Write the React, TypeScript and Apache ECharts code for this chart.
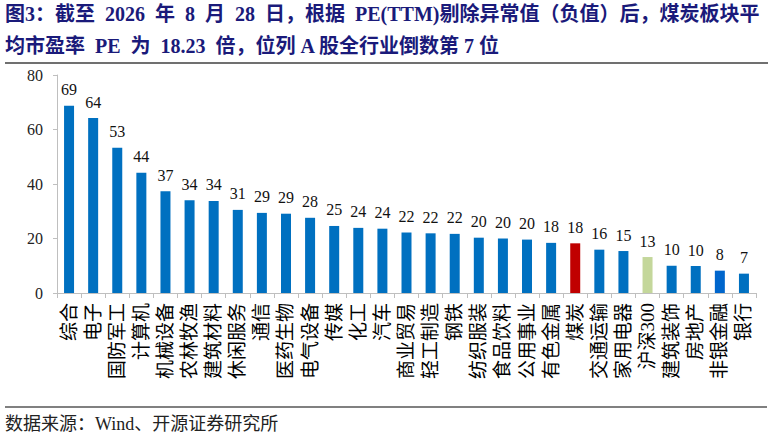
import { useEffect, useRef } from 'react'
import * as echarts from 'echarts'

const categories = [
  '综合', '电子', '国防军工', '计算机', '机械设备', '农林牧渔', '建筑材料', '休闲服务',
  '通信', '医药生物', '电气设备', '传媒', '化工', '汽车', '商业贸易', '轻工制造',
  '钢铁', '纺织服装', '食品饮料', '公用事业', '有色金属', '煤炭', '交通运输', '家用电器',
  '沪深300', '建筑装饰', '房地产', '非银金融', '银行',
]
const peValues = [
  68.7, 64.2, 53.3, 44.1, 37.3, 34.0, 33.8, 30.5, 29.4, 29.1, 27.6, 24.6, 23.9, 23.6, 22.2,
  21.9, 21.7, 20.3, 20.0, 19.6, 18.4, 18.23, 15.9, 15.4, 13.2, 10.0, 9.9, 8.2, 7.1,
]
const yTicks = [0, 20, 40, 60, 80]

const BLUE = '#0070C0'
const highlight: Record<string, string> = {
  煤炭: '#C00000',
  沪深300: '#C4D79B',
  非银金融: '#0066CC',
}

const SERIF = '"Times New Roman", "Liberation Serif", "Noto Sans CJK SC", serif'
const TITLE_1 = '图3：截至  2026  年  8  月  28  日，根据  PE(TTM)剔除异常值（负值）后，煤炭板块平'
const TITLE_2 = '均市盈率  PE  为  18.23  倍，位列 A 股全行业倒数第 7 位'
const SOURCE = '数据来源：Wind、开源证券研究所'

export default function App() {
  const ref = useRef<HTMLDivElement>(null)

  useEffect(() => {
    const el = ref.current
    if (!el) return
    const chart = echarts.init(el, undefined, { renderer: 'svg' })
    chart.setOption({
      animation: false,
      textStyle: { fontFamily: SERIF },
      grid: { left: 57, right: 17, top: 75, bottom: 145 },
      xAxis: {
        type: 'category',
        data: categories,
        axisLine: { lineStyle: { color: '#BFBFBF' } },
        axisTick: { show: true, length: 5, lineStyle: { color: '#BFBFBF' } },
        axisLabel: {
          interval: 0,
          rotate: 90,
          margin: 10,
          fontSize: 19,
          color: '#000',
          fontFamily: SERIF,
        },
      },
      yAxis: {
        type: 'value',
        min: yTicks[0],
        max: yTicks[yTicks.length - 1],
        interval: 20,
        axisLine: { show: true, lineStyle: { color: '#BFBFBF' } },
        axisTick: { show: true, length: 4, lineStyle: { color: '#BFBFBF' } },
        splitLine: { show: false },
        axisLabel: { fontSize: 16, color: '#222', margin: 14, fontFamily: SERIF },
      },
      series: [
        {
          type: 'bar',
          barWidth: 10,
          data: peValues.map((v, i) => ({
            value: v,
            itemStyle: { color: highlight[categories[i]] ?? BLUE },
          })),
          label: {
            show: true,
            position: 'top',
            distance: 8,
            fontSize: 16,
            color: '#111',
            fontFamily: SERIF,
            formatter: (p: { value: number }) => String(Math.round(p.value)),
          },
        },
      ],
      graphic: [
        {
          type: 'text',
          left: 5,
          top: 4,
          style: { text: TITLE_1, font: `bold 20px ${SERIF}`, fill: '#1A1A7A' },
        },
        {
          type: 'text',
          left: 5,
          top: 36,
          style: { text: TITLE_2, font: `bold 20px ${SERIF}`, fill: '#1A1A7A' },
        },
        {
          type: 'line',
          shape: { x1: 5, y1: 63, x2: 768, y2: 63 },
          style: { stroke: '#404040', lineWidth: 1.5 },
        },
        {
          type: 'line',
          shape: { x1: 5, y1: 407, x2: 767, y2: 407 },
          style: { stroke: '#808080', lineWidth: 2 },
        },
        {
          type: 'text',
          left: 5,
          top: 415,
          style: { text: SOURCE, font: `18px ${SERIF}`, fill: '#222' },
        },
      ],
    })
    return () => chart.dispose()
  }, [])

  return (
    <div
      ref={ref}
      style={{ position: 'fixed', left: 0, top: 0, width: 773, height: 438, background: '#fff' }}
    />
  )
}
